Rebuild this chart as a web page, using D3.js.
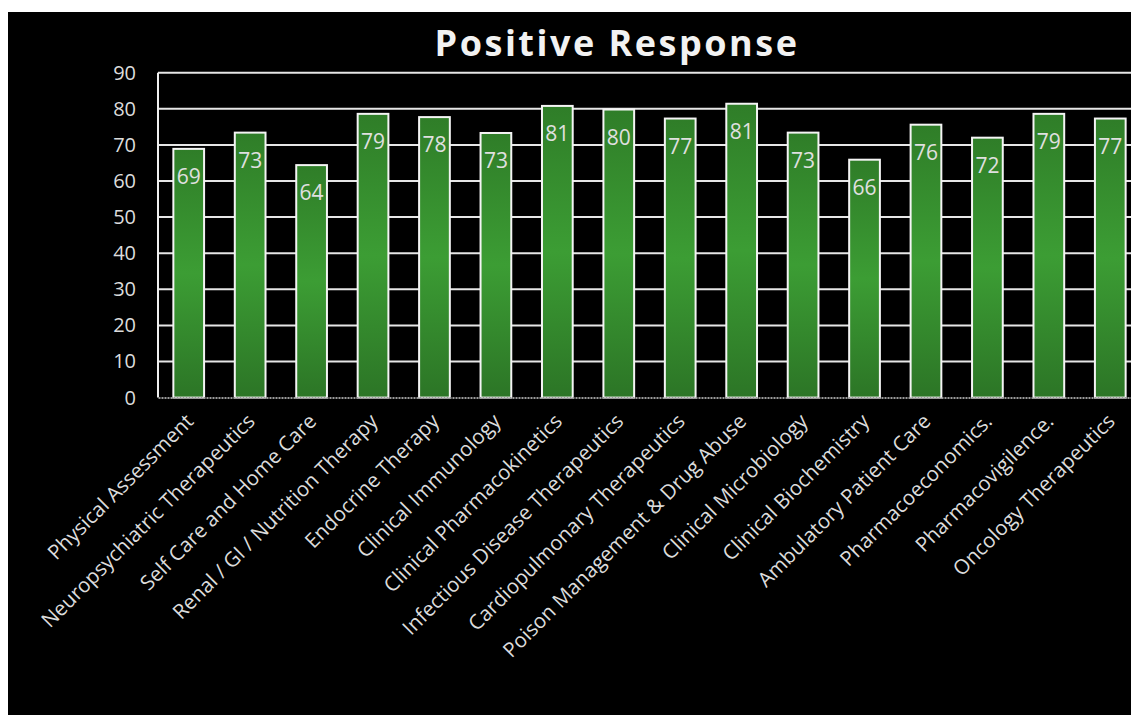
<!doctype html>
<html lang="en">
<head>
  <meta charset="utf-8">
  <title>Positive Response</title>
  <style>
    * { margin: 0; padding: 0; box-sizing: border-box; }
    body { background: #fff; overflow: hidden; }
    svg { display: block; font-family: "Open Sans", "Noto Sans", sans-serif; }
  </style>
</head>
<body>
  <div class="chart"></div>
  <script src="https://cdn.jsdelivr.net/npm/d3@7"></script>
  <script>
    // data
    const categories = [
      'Physical Assessment', 'Neuropsychiatric Therapeutics', 'Self Care and Home Care',
      'Renal / GI / Nutrition Therapy', 'Endocrine Therapy', 'Clinical Immunology',
      'Clinical Pharmacokinetics', 'Infectious Disease Therapeutics',
      'Cardiopulmonary Therapeutics', 'Poison Management & Drug Abuse',
      'Clinical Microbiology', 'Clinical Biochemistry', 'Ambulatory Patient Care',
      'Pharmacoeconomics.', 'Pharmacovigilence.', 'Oncology Therapeutics'
    ];
    const values = [68.9, 73.4, 64.4, 78.6, 77.7, 73.3, 80.8, 79.8, 77.3, 81.4, 73.4, 65.9, 75.6, 72.0, 78.6, 77.3];
    const yTicks = [0, 10, 20, 30, 40, 50, 60, 70, 80, 90];
    const title = 'Positive Response';

    // layout
    const W = 1131, H = 715;
    const plot = {l: 158, t: 72.7, r: 1141, b: 397.6};

    const svg = d3.select('.chart').append('svg')
      .attr('width', W).attr('height', H);

    // black panel
    svg.append('rect')
      .attr('x', 8).attr('y', 12)
      .attr('width', W - 8).attr('height', H - 12)
      .attr('fill', '#000');

    const defs = svg.append('defs');
    const grad = defs.append('linearGradient')
      .attr('id', 'barGrad').attr('x1', 0).attr('y1', 0).attr('x2', 0).attr('y2', 1);
    grad.append('stop').attr('offset', '0%').attr('stop-color', '#2f7d28');
    grad.append('stop').attr('offset', '50%').attr('stop-color', '#3c9d34');
    grad.append('stop').attr('offset', '100%').attr('stop-color', '#2c7526');

    // scales
    const x = d3.scaleBand().domain(categories).range([plot.l, plot.r]).paddingInner(0.5).paddingOuter(0.25);
    const y = d3.scaleLinear().domain([0, 90]).range([plot.b, plot.t]);

    // title
    svg.append('text')
      .attr('x', 617).attr('y', 56)
      .attr('text-anchor', 'middle')
      .attr('fill', '#f2f2f2')
      .style('font-size', '36px').style('font-weight', 700)
      .style('letter-spacing', '2.5px')
      .text(title);

    // gridlines
    svg.append('g')
      .selectAll('line')
      .data(yTicks.filter(d => d > 0))
      .join('line')
      .attr('x1', plot.l).attr('x2', plot.r)
      .attr('y1', d => y(d)).attr('y2', d => y(d))
      .attr('stroke', '#e6e6e6').attr('stroke-width', 2);

    // left border
    svg.append('line')
      .attr('x1', plot.l).attr('x2', plot.l)
      .attr('y1', plot.t).attr('y2', plot.b)
      .attr('stroke', '#f0f0f0').attr('stroke-width', 2);

    // y axis
    const axisY = d3.axisLeft(y).tickValues(yTicks).tickSize(0).tickPadding(22);
    const gy = svg.append('g').attr('transform', `translate(${plot.l},0)`).call(axisY);
    gy.select('.domain').remove();
    gy.selectAll('text')
      .attr('fill', '#dcdcdc')
      .style('font-size', '20px')
      .style('font-family', '"Open Sans", sans-serif');

    // bars
    svg.append('g')
      .selectAll('rect')
      .data(values)
      .join('rect')
      .attr('x', (d, i) => x(categories[i]))
      .attr('y', d => y(d))
      .attr('width', x.bandwidth())
      .attr('height', d => y(0) - y(d))
      .attr('fill', 'url(#barGrad)')
      .attr('stroke', '#f4f4f4').attr('stroke-width', 2);

    // bar value labels
    svg.append('g')
      .selectAll('text')
      .data(values)
      .join('text')
      .attr('x', (d, i) => x(categories[i]) + x.bandwidth() / 2)
      .attr('y', d => y(d) + 35)
      .attr('text-anchor', 'middle')
      .attr('fill', '#e0e0e0')
      .style('font-size', '21px')
      .text(d => Math.round(d));

    // x axis
    const axisX = d3.axisBottom(x).tickSize(0).tickPadding(0);
    const gx = svg.append('g').attr('transform', `translate(0,${plot.b})`).call(axisX);
    gx.select('.domain')
      .attr('stroke', '#9a9a9a').attr('stroke-width', 2)
      .attr('stroke-dasharray', '2,1');
    gx.selectAll('text')
      .attr('fill', '#dcdcdc')
      .style('font-size', '20.5px')
      .style('font-family', '"Open Sans", sans-serif')
      .style('text-anchor', 'end')
      .attr('dy', 0)
      .attr('transform', 'translate(6,25) rotate(-45)');
  </script>
</body>
</html>
